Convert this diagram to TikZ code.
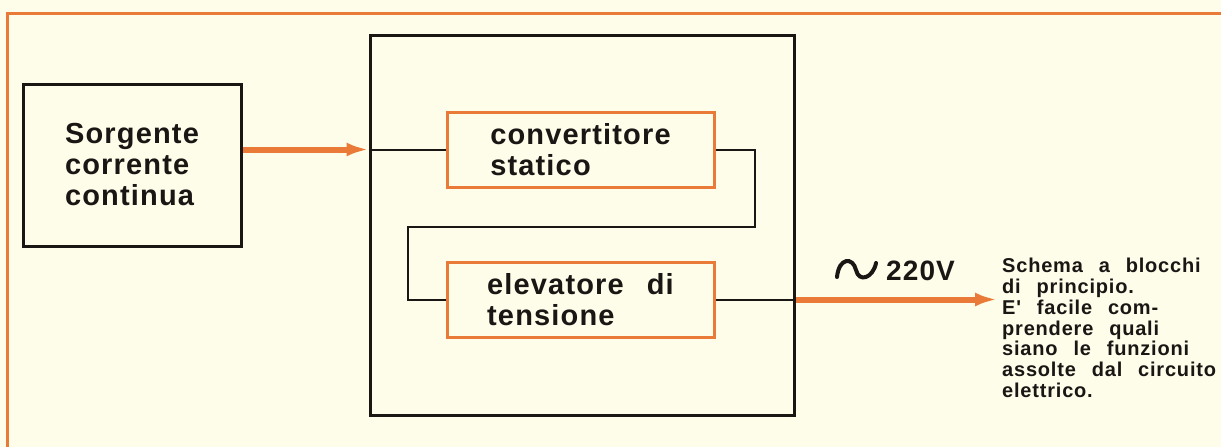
\documentclass[tikz,border=0pt]{standalone}
\usepackage{fontspec}
\newfontfamily\blockfont{Liberation Sans}[LetterSpace=4]
\newfontfamily\notefont{Liberation Sans}[LetterSpace=4,WordSpace=2.5]
\usetikzlibrary{arrows.meta}
\definecolor{paper}{RGB}{253,253,234}
\definecolor{ink}{RGB}{25,22,20}
\definecolor{rust}{RGB}{234,122,56}

\begin{document}
\begin{tikzpicture}[x=1pt,y=-1pt,
  block/.style={draw=ink,line width=3pt,inner sep=0pt,align=left,text=ink,
    font=\blockfont\bfseries\fontsize{29}{31}\selectfont},
  stage/.style={block,draw=rust},
  wire/.style={draw=ink,line width=2pt},
  feed/.style={draw=rust,line width=6pt,-{Latex[length=22pt,width=14pt]}}]
  \fill[paper] (0,0) rectangle (1221,447);
  \useasboundingbox (0,0) rectangle (1221,447);
  \draw[rust,line width=3pt] (7,447) -- (7,13) -- (1221,13);

  % blocks
  \node[block,minimum width=218,minimum height=162] (src) at (132,165) {Sorgente\\corrente\\continua};
  \node[block,minimum width=424,minimum height=380] (inv) at (582,225) {};
  \node[stage,minimum width=267,minimum height=75] (conv) at (580.5,149.5) {convertitore\\statico};
  \node[stage,minimum width=267,minimum height=75] (elev) at (580.5,299.5) {elevatore di\\tensione};

  % wiring
  \coordinate (turnR) at (755,227);
  \coordinate (turnL) at (408,227);
  \coordinate (out) at (997,302);
  \draw[feed] (conv.west -| src.east) -- (conv.west -| inv.west);
  \draw[wire] (conv.west -| inv.west) -- (conv.west);
  \draw[wire] (conv.east) -| (turnR) -- (turnL) |- (elev.west);
  \draw[wire] (elev.east) -- (elev.east -| inv.east);
  \draw[feed] (elev.east -| inv.east) -- (elev.east -| out);

  % output voltage
  \node[anchor=west,inner sep=0pt,text=ink,font=\blockfont\bfseries\fontsize{28}{28}\selectfont] (volt) at (886,271) {220V};
  \draw[ink,line width=4pt,line cap=round] ([shift={(-49,6)}]volt.west)
    .. controls +(2,-20) and +(-3,-13) .. ([shift={(-30,-1)}]volt.west)
    .. controls +(3,13) and +(-3,15) .. ([shift={(-10,-8)}]volt.west);

  \node[anchor=north west,inner sep=0pt,align=left,text=ink,
    font=\notefont\bfseries\fontsize{20}{20.8}\selectfont] (note) at (1002,258)
    {Schema a blocchi\\di principio.\\E' facile com-\\prendere quali\\siano le funzioni\\assolte dal circuito\\elettrico.};
\end{tikzpicture}
\end{document}
